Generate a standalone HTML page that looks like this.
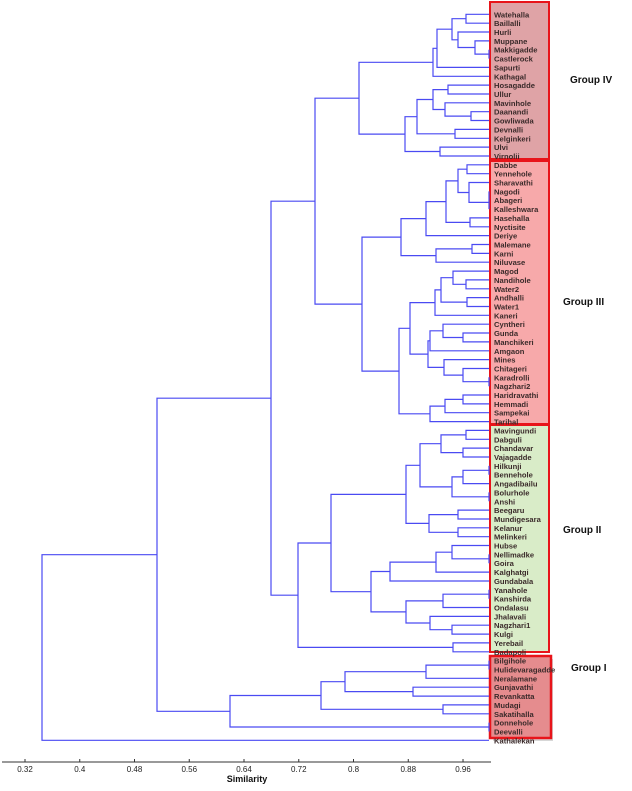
<!DOCTYPE html>
<html><head><meta charset="utf-8"><style>
html,body{margin:0;padding:0;background:#fff;width:632px;height:791px;overflow:hidden}
svg{display:block}
text{font-family:"Liberation Sans",sans-serif}
</style></head><body>
<svg id="s" width="632" height="791" xmlns="http://www.w3.org/2000/svg">
<rect x="490" y="2" width="59" height="157" fill="#dfa3a6" stroke="#e8141a" stroke-width="2"/>
<rect x="490" y="161" width="59" height="263" fill="#f7a9aa" stroke="#e8141a" stroke-width="2"/>
<rect x="490" y="425" width="59" height="227" fill="#d9ecc8" stroke="#e8141a" stroke-width="2"/>
<rect x="493" y="659" width="60" height="82" fill="#b0b0b0" opacity="0.5"/>
<rect x="490" y="656" width="61" height="82" fill="#e58c8e" stroke="#e8141a" stroke-width="2.5"/>
<text x="570" y="83" font-size="10" font-weight="bold" fill="#111">Group IV</text>
<text x="563" y="305" font-size="10" font-weight="bold" fill="#111">Group III</text>
<text x="563" y="533" font-size="10" font-weight="bold" fill="#111">Group II</text>
<text x="571" y="671" font-size="10" font-weight="bold" fill="#111">Group I</text>
<g id="tree" stroke="#4a4af2" stroke-width="1.2" fill="none"></g>
<g id="labels" font-size="7.6" font-weight="bold" fill="#3a2a2a"></g>
<line x1="2" y1="762" x2="491" y2="762" stroke="#333" stroke-width="1"/>
<g id="axis" font-size="8" fill="#222"></g>
<text x="247" y="782" font-size="9" font-weight="bold" text-anchor="middle" fill="#111">Similarity</text>
</svg>
<script>
var L=function(){return Array.prototype.slice.call(arguments)};
var g4=[359,[433,[437,[452,[466,"Watehalla","Baillalli"],[458,"Hurli",[475,"Muppane",[489,"Makkigadde","Castlerock"]]]],"Sapurti"],"Kathagal"],
 [405,[417,[433,[448,"Hosagadde","Ullur"],[445,"Mavinhole",[471,"Daanandi","Gowliwada"]]],[455,"Devnalli","Kelginkeri"]],[440,"Ulvi","Virnolii"]]];
var g3=[362,
 [401,[426,[446,[458,[467,"Dabbe","Yennehole"],[469,"Sharavathi",[489,[489,"Nagodi","Abageri"],"Kalleshwara"]]],[470,"Hasehalla","Nyctisite"]],"Deriye"],
   [436,[472,"Malemane","Karni"],"Niluvase"]],
 [399,[410,[435,[441,[453,"Magod",[466,"Nandihole","Water2"]],[467,"Andhalli","Water1"]],"Kaneri"],
    [428,[430,[443,"Cyntheri",[463,"Gunda","Manchikeri"]],"Amgaon"],[444,"Mines",[463,"Chitageri",[489,"Karadrolli","Nagzhari2"]]]]],
   [430,[445,[463,"Haridravathi","Hemmadi"],"Sampekai"],"Tarihal"]]];
var g2=[331,
 [406,[420,[441,[466,"Mavingundi","Dabguli"],[463,"Chandavar","Vajagadde"]],[452,[463,[489,"Hilkunji","Bennehole"],"Angadibailu"],[489,"Bolurhole","Anshi"]]],
   [429,[458,"Beegaru","Mundigesara"],[458,"Kelanur","Melinkeri"]]],
 [371,[390,[436,[452,"Hubse",[489,"Nellimadke","Goira"]],"Kalghatgi"],"Gundabala"],
   [406,[443,[489,"Yanahole","Kanshirda"],"Ondalasu"],[430,"Jhalavali",[452,"Nagzhari1","Kulgi"]]]]];
var g1=[230,[321,[345,[426,[489,"Bilgihole","Hulidevaragadde"],"Neralamane"],[413,"Gunjavathi","Revankatta"]],[443,"Mudagi","Sakatihalla"]],[489,"Donnehole","Deevalli"]];
var root=[42,[157,[271,[315,g4,g3],[298,g2,[453,"Yerebail","Badapoli"]]],g1],"Kathalekan"];
var idx=0,tree=document.getElementById('tree'),lab=document.getElementById('labels'),NS="http://www.w3.org/2000/svg";
var d="";
function walk(n){
 if(typeof n==="string"){var y=14.3+idx*8.854;idx++;
  var t=document.createElementNS(NS,'text');t.setAttribute('x',494);t.setAttribute('y',(y+3).toFixed(1));t.textContent=n;lab.appendChild(t);
  return {x:489,y:y};}
 var a=walk(n[1]),b=walk(n[2]),x=n[0];
 d+="M"+a.x+" "+a.y.toFixed(1)+"H"+x+"V"+b.y.toFixed(1)+"H"+b.x+" ";
 return {x:x,y:(a.y+b.y)/2};
}
walk(root);
var p=document.createElementNS(NS,'path');p.setAttribute('d',d);tree.appendChild(p);
var ax=document.getElementById('axis');
[0.32,0.4,0.48,0.56,0.64,0.72,0.8,0.88,0.96].forEach(function(v){
 var x=25+(v-0.32)*684.4;
 var l=document.createElementNS(NS,'line');l.setAttribute('x1',x);l.setAttribute('x2',x);l.setAttribute('y1',759);l.setAttribute('y2',762);l.setAttribute('stroke','#333');ax.appendChild(l);
 var t=document.createElementNS(NS,'text');t.setAttribute('x',x);t.setAttribute('y',772);t.setAttribute('text-anchor','middle');t.textContent=String(v);ax.appendChild(t);
});
</script>
</body></html>
